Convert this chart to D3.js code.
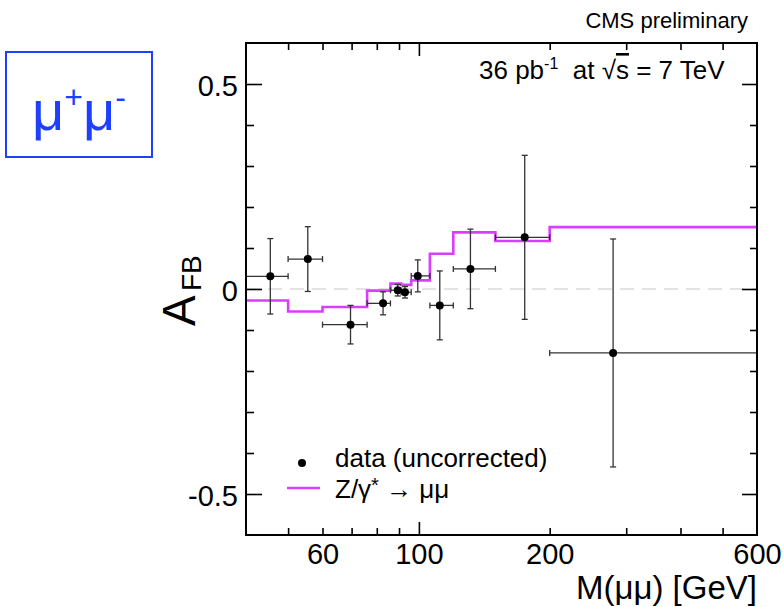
<!DOCTYPE html>
<html>
<head>
<meta charset="utf-8">
<script src="https://cdn.jsdelivr.net/npm/d3@7"></script>
<style>
  body { margin: 0; background: #fff; }
  svg { display: block; font-family: "Liberation Sans", Arial, sans-serif; }
  .tick line { stroke: #000; stroke-width: 1.6; }
</style>
</head>
<body>
<svg width="784" height="607"></svg>
<script>
// bin edges of the measurement, GeV
const binEdges = [40, 50, 60, 76, 86, 91, 96, 106, 120, 150, 200, 600];
// data points (uncorrected), one per bin
const dataMass = [45.5, 55.5, 69.6, 82.7, 89.4, 92.9, 99.4, 111.7, 131.4, 175.2, 279.9];
const dataAfb  = [0.031, 0.073, -0.087, -0.035, -0.003, -0.008, 0.032, -0.040, 0.049, 0.126, -0.156];
const dataErr  = [0.092, 0.079, 0.047, 0.028, 0.014, 0.014, 0.039, 0.084, 0.097, 0.200, 0.278];
// Z/gamma* -> mumu prediction per bin
const modelAfb = [-0.028, -0.055, -0.044, -0.004, 0.013, 0.010, 0.021, 0.086, 0.138, 0.117, 0.151];

const xMinor = [50, 60, 70, 80, 90, 200, 300, 400, 500];
const xMajor = [100];
const xLabels = [60, 100, 200, 600];
const yMinor = [-0.4, -0.3, -0.2, -0.1, 0.1, 0.2, 0.3, 0.4];
const yMajor = [-0.5, 0, 0.5];

const svg = d3.select("svg");
const pLeft = 246, pRight = 757, pTop = 43, pBottom = 535;

const x = d3.scaleLog().domain([40, 600]).range([pLeft, pRight]);
const y = d3.scaleLinear().domain([-0.6, 0.6]).range([pBottom, pTop]);

const magenta = "#dc3cff";
const blue = "#1f3fff";
const errColor = "#333";

// dashed zero line
svg.append("line")
    .attr("x1", pLeft).attr("x2", pRight)
    .attr("y1", y(0)).attr("y2", y(0))
    .attr("stroke", "#c8c8c8")
    .attr("stroke-width", 1.2)
    .attr("stroke-dasharray", "14,8");

// axes, ticks pointing into the frame
function tickAxis(axis, values, size, transform) {
    svg.append("g")
        .attr("transform", transform)
        .call(axis.tickValues(values).tickSize(-size).tickFormat(""))
        .call(g => g.select(".domain").remove());
}
tickAxis(d3.axisBottom(x), xMinor, 7, `translate(0,${pBottom})`);
tickAxis(d3.axisBottom(x), xMajor, 13, `translate(0,${pBottom})`);
tickAxis(d3.axisTop(x), xMinor, 7, `translate(0,${pTop})`);
tickAxis(d3.axisTop(x), xMajor, 13, `translate(0,${pTop})`);
tickAxis(d3.axisLeft(y), yMinor, 8, `translate(${pLeft},0)`);
tickAxis(d3.axisLeft(y), yMajor, 16, `translate(${pLeft},0)`);
tickAxis(d3.axisRight(y), yMinor, 7, `translate(${pRight},0)`);
tickAxis(d3.axisRight(y), yMajor, 15, `translate(${pRight},0)`);

// tick labels
svg.append("g")
    .attr("transform", `translate(0,${pBottom})`)
    .call(d3.axisBottom(x).tickValues(xLabels).tickSize(0).tickPadding(8).tickFormat(d3.format("d")))
    .call(g => g.select(".domain").remove())
    .call(g => g.selectAll("text").attr("font-size", 29).attr("fill", "#000"));

svg.append("g")
    .attr("transform", `translate(${pLeft},0)`)
    .call(d3.axisLeft(y).tickValues(yMajor).tickSize(0).tickPadding(8).tickFormat(d => d === 0 ? "0" : String(d)))
    .call(g => g.select(".domain").remove())
    .call(g => g.selectAll("text").attr("font-size", 29).attr("dy", "0.38em").attr("fill", "#000"));

// model step line
const stepPts = binEdges.map((e, i) => [e, modelAfb[Math.min(i, modelAfb.length - 1)]]);
svg.append("path")
    .datum(stepPts)
    .attr("fill", "none")
    .attr("stroke", magenta)
    .attr("stroke-width", 2.6)
    .attr("d", d3.line().x(d => x(d[0])).y(d => y(d[1])).curve(d3.curveStepAfter));

// data with error bars
const pts = dataMass.map((m, i) => ({
    m, a: dataAfb[i], e: dataErr[i], lo: binEdges[i], hi: binEdges[i + 1]
}));
const pg = svg.append("g").attr("stroke", errColor).attr("stroke-width", 1.3);
const cap = 3;
pts.forEach(d => {
    const cx = x(d.m), cy = y(d.a);
    pg.append("line").attr("x1", x(d.lo)).attr("x2", x(d.hi)).attr("y1", cy).attr("y2", cy);
    pg.append("line").attr("x1", cx).attr("x2", cx).attr("y1", y(d.a + d.e)).attr("y2", y(d.a - d.e));
    pg.append("line").attr("x1", x(d.lo)).attr("x2", x(d.lo)).attr("y1", cy - cap).attr("y2", cy + cap);
    pg.append("line").attr("x1", x(d.hi)).attr("x2", x(d.hi)).attr("y1", cy - cap).attr("y2", cy + cap);
    pg.append("line").attr("x1", cx - cap).attr("x2", cx + cap).attr("y1", y(d.a + d.e)).attr("y2", y(d.a + d.e));
    pg.append("line").attr("x1", cx - cap).attr("x2", cx + cap).attr("y1", y(d.a - d.e)).attr("y2", y(d.a - d.e));
});
svg.append("g").selectAll("circle")
    .data(pts)
    .join("circle")
    .attr("cx", d => x(d.m))
    .attr("cy", d => y(d.a))
    .attr("r", 4)
    .attr("fill", "#000");

// frame
svg.append("rect")
    .attr("x", pLeft).attr("y", pTop)
    .attr("width", pRight - pLeft).attr("height", pBottom - pTop)
    .attr("fill", "none").attr("stroke", "#000").attr("stroke-width", 2);

// axis titles
svg.append("text")
    .attr("x", pRight).attr("y", 599)
    .attr("text-anchor", "end")
    .attr("font-size", 33)
    .text("M(μμ) [GeV]");

svg.append("text")
    .attr("transform", "translate(195,326) rotate(-90)")
    .attr("font-size", 46)
    .text("A");
svg.append("text")
    .attr("transform", "translate(201,291) rotate(-90)")
    .attr("font-size", 28)
    .text("FB");

// header
svg.append("text")
    .attr("x", 748).attr("y", 28)
    .attr("text-anchor", "end")
    .attr("font-size", 22)
    .text("CMS preliminary");

const lumi = svg.append("text")
    .attr("x", 479).attr("y", 79)
    .attr("font-size", 26);
lumi.append("tspan").text("36 pb");
lumi.append("tspan").attr("font-size", 16).attr("dy", -10).text("-1");
lumi.append("tspan").attr("dy", 10).text("\u00a0 at ");
lumi.append("tspan").text("√");
lumi.append("tspan").style("text-decoration", "overline").text("s");
lumi.append("tspan").text(" = 7 TeV");

// legend
svg.append("circle").attr("cx", 302).attr("cy", 463).attr("r", 4).attr("fill", "#000");
svg.append("text").attr("x", 335).attr("y", 467).attr("font-size", 26).text("data (uncorrected)");
svg.append("line")
    .attr("x1", 287).attr("x2", 320).attr("y1", 488).attr("y2", 488)
    .attr("stroke", magenta).attr("stroke-width", 2.6);
const leg2 = svg.append("text").attr("x", 335).attr("y", 498).attr("font-size", 26);
leg2.append("tspan").text("Z/γ");
leg2.append("tspan").attr("font-size", 20).attr("dy", -6).text("*");
leg2.append("tspan").attr("dy", 6).text(" → μμ");

// channel box
svg.append("rect")
    .attr("x", 6).attr("y", 52).attr("width", 146).attr("height", 105)
    .attr("fill", "none").attr("stroke", blue).attr("stroke-width", 2);
const ch = svg.append("text").attr("x", 32).attr("y", 130).attr("font-size", 56).attr("fill", blue);
ch.append("tspan").text("μ");
ch.append("tspan").attr("font-size", 32).attr("dy", -22).text("+");
ch.append("tspan").attr("dy", 22).text("μ");
ch.append("tspan").attr("font-size", 32).attr("dy", -22).text("-");
</script>
</body>
</html>
